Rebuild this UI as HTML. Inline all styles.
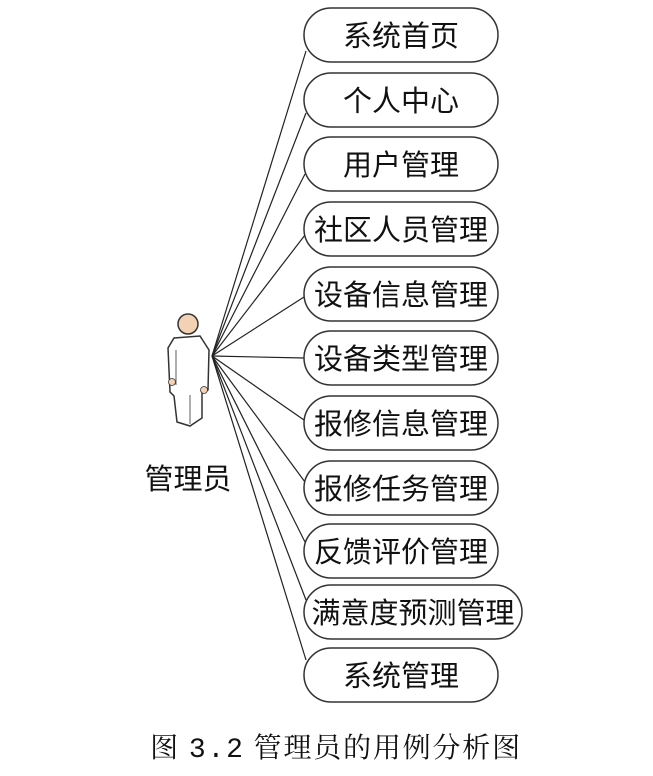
<!DOCTYPE html>
<html><head><meta charset="utf-8"><style>
body{margin:0;background:#fff;width:653px;height:771px;overflow:hidden}
svg text{font-family:"Liberation Sans","Noto Sans CJK SC",sans-serif}
</style></head><body>
<svg width="653" height="771" viewBox="0 0 653 771" xmlns="http://www.w3.org/2000/svg">
<g stroke="#222" stroke-width="1.2">
<line x1="212" y1="356" x2="306" y2="51"/>
<line x1="212" y1="356" x2="306" y2="113"/>
<line x1="212" y1="356" x2="305" y2="174"/>
<line x1="212" y1="356" x2="305" y2="235"/>
<line x1="212" y1="356" x2="304" y2="297"/>
<line x1="212" y1="356" x2="304" y2="358"/>
<line x1="212" y1="356" x2="304" y2="420"/>
<line x1="212" y1="356" x2="305" y2="482"/>
<line x1="212" y1="356" x2="305" y2="542"/>
<line x1="212" y1="356" x2="306" y2="600"/>
<line x1="212" y1="356" x2="306" y2="660"/>
</g>
<g fill="#fff" stroke="#333" stroke-width="1.5">
<rect x="304" y="8" width="194" height="54" rx="27"/>
<rect x="304" y="73" width="194" height="54" rx="27"/>
<rect x="304" y="137" width="194" height="54" rx="27"/>
<rect x="304" y="202" width="194" height="54" rx="27"/>
<rect x="304" y="267" width="194" height="54" rx="27"/>
<rect x="304" y="331" width="194" height="54" rx="27"/>
<rect x="304" y="396" width="194" height="54" rx="27"/>
<rect x="304" y="461" width="194" height="54" rx="27"/>
<rect x="304" y="524" width="194" height="54" rx="27"/>
<rect x="304" y="585" width="218" height="54" rx="27"/>
<rect x="304" y="648" width="194" height="54" rx="27"/>
</g>
<g font-size="29" text-anchor="middle" fill="#111">
<text x="401" y="46">系统首页</text>
<text x="401" y="111">个人中心</text>
<text x="401" y="175">用户管理</text>
<text x="401" y="240">社区人员管理</text>
<text x="401" y="305">设备信息管理</text>
<text x="401" y="369">设备类型管理</text>
<text x="401" y="434">报修信息管理</text>
<text x="401" y="499">报修任务管理</text>
<text x="401" y="562">反馈评价管理</text>
<text x="413" y="623">满意度预测管理</text>
<text x="401" y="686">系统管理</text>
</g>
<!-- actor -->
<g stroke="#333" stroke-width="1.5" fill="#fff">
<path d="M174 338 L200 336 L209 350 L208 390 L202 392 L202 418 L190 426 L177 422 L174 396 L170 392 L168 348 Z"/>
<line x1="176" y1="350" x2="176" y2="385" stroke-width="0.8"/>
<line x1="190" y1="395" x2="190" y2="424" stroke-width="0.8"/>
<circle cx="188" cy="324" r="10" fill="#f3d2b4"/>
<circle cx="172" cy="382" r="3.5" fill="#f3d2b4" stroke-width="0.8"/>
<circle cx="204" cy="390" r="3.5" fill="#f3d2b4" stroke-width="0.8"/>
</g>
<text x="188" y="489" font-size="29" text-anchor="middle" fill="#111">管理员</text>
<text x="336" y="757" font-size="28" letter-spacing="1.8" text-anchor="middle" fill="#111" style="font-family:'Noto Serif CJK SC',serif">图 <tspan style="font-family:'Liberation Mono',monospace">3.2</tspan> 管理员的用例分析图</text>
</svg>
</body></html>
